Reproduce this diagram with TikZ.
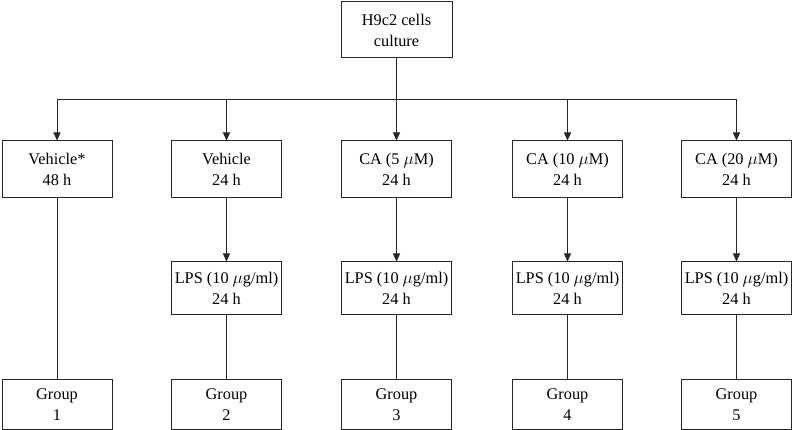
\documentclass[tikz,border=0pt]{standalone}
\usepackage{fontspec}
\setmainfont{Liberation Serif}
\usetikzlibrary{arrows.meta}
\begin{document}
\begin{tikzpicture}[x=1pt,y=-1pt,
  box/.style={draw=black!85,line width=1pt,fill=white,align=center,inner sep=0pt,
    font=\fontsize{16.3}{21}\selectfont,minimum width=110pt},
  rowa/.style={box,minimum height=57pt},
  rowb/.style={box,minimum height=53pt},
  rowc/.style={box,minimum height=49pt},
  conn/.style={draw=black!85,line width=1pt},
  arr/.style={conn,-{Triangle[length=8pt,width=7pt]}}]
\useasboundingbox (0,0) rectangle (793,430);
\node[box,minimum width=111pt,minimum height=56pt] (top) at (396.5,30) {H9c2 cells\\culture};
\node[rowa] (v1) at (57,169.5) {Vehicle*\\48 h};
\node[rowa] (v2) at (226.5,169.5) {Vehicle\\24 h};
\node[rowa] (v3) at (396.5,169.5) {CA (5 $\mu$M)\\24 h};
\node[rowa] (v4) at (567.5,169.5) {CA (10 $\mu$M)\\24 h};
\node[rowa] (v5) at (736.5,169.5) {CA (20 $\mu$M)\\24 h};
\node[rowb] (l2) at (226.5,288.5) {LPS (10 $\mu$g/ml)\\24 h};
\node[rowb] (l3) at (396.5,288.5) {LPS (10 $\mu$g/ml)\\24 h};
\node[rowb] (l4) at (567.5,288.5) {LPS (10 $\mu$g/ml)\\24 h};
\node[rowb] (l5) at (736.5,288.5) {LPS (10 $\mu$g/ml)\\24 h};
\node[rowc] (g1) at (57,404.5) {Group\\1};
\node[rowc] (g2) at (226.5,404.5) {Group\\2};
\node[rowc] (g3) at (396.5,404.5) {Group\\3};
\node[rowc] (g4) at (567.5,404.5) {Group\\4};
\node[rowc] (g5) at (736.5,404.5) {Group\\5};
\coordinate (j1) at (57,100);
\coordinate (j2) at (226.5,100);
\coordinate (j3) at (396.5,100);
\coordinate (j4) at (567.5,100);
\coordinate (j5) at (736.5,100);
\draw[conn] (top.south) -- (j3);
\draw[conn] (j1) -- (j5);
\foreach \i in {1,...,5} {\draw[arr] (j\i) -- (v\i.north);}
\draw[conn] (v1.south) -- (g1.north);
\foreach \i in {2,...,5} {
  \draw[arr] (v\i.south) -- (l\i.north);
  \draw[conn] (l\i.south) -- (g\i.north);
}
\end{tikzpicture}
\end{document}
